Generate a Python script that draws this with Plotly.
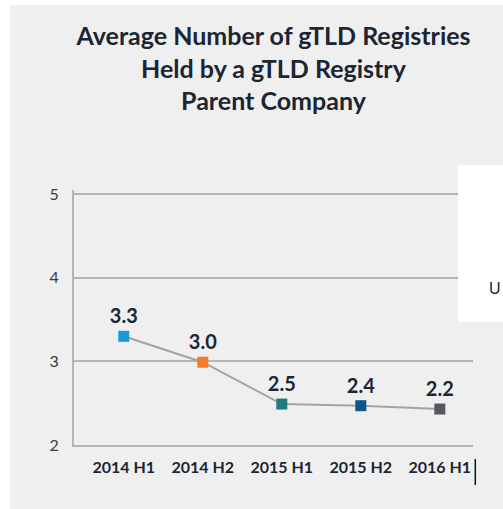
import plotly.graph_objects as go

periods = ["2014 H1", "2014 H2", "2015 H1", "2015 H2", "2016 H1"]
avg_values = [3.30, 2.99, 2.49, 2.47, 2.43]
value_labels = ["3.3", "3.0", "2.5", "2.4", "2.2"]
marker_colors = ["#1a9bd7", "#f07c2c", "#1f7c7c", "#0d5687", "#55595e"]
y_ticks = [2, 3, 4, 5]

W, H = 503, 509
Y_TOP = 5.05
L, R, B = 74, 472.7, 445
T = 194 - (Y_TOP - 5) * (445 - 194) / 3

def px(x):
    return (x - L) / (R - L)

def py(y):
    return (B - y) / (B - T)

fig = go.Figure()
fig.add_trace(go.Scatter(
    x=periods, y=avg_values, mode="lines+markers+text",
    line=dict(color="#a3a3a3", width=2),
    marker=dict(symbol="square", size=11, color=marker_colors, line=dict(width=0)),
    text=value_labels, textposition="top center",
    textfont=dict(family="Lato", size=20, color="#1c2533", weight="bold"),
    cliponaxis=False, hoverinfo="skip", showlegend=False,
))

shapes = [
    dict(type="rect", xref="paper", yref="paper", x0=px(-2), x1=px(10), y0=py(-2), y1=py(H + 2),
         fillcolor="white", line=dict(width=0), layer="above"),
    dict(type="rect", xref="paper", yref="paper", x0=px(-2), x1=px(W + 2), y0=py(-2), y1=py(5),
         fillcolor="white", line=dict(width=0), layer="above"),
    dict(type="rect", xref="paper", yref="paper", x0=px(457.7), x1=px(W + 2), y0=py(321.7), y1=py(165),
         fillcolor="white", line=dict(width=0), layer="above"),
    dict(type="line", xref="paper", yref="paper", x0=px(475), x1=px(475), y0=py(459), y1=py(485),
         line=dict(color="#111111", width=1.5), layer="above"),
]

fig.update_layout(
    width=W, height=H,
    margin=dict(l=L, r=W - R, t=T, b=H - B, pad=0),
    paper_bgcolor="#efefef", plot_bgcolor="#efefef",
    shapes=shapes,
    title=dict(
        text="Average Number of gTLD Registries<br>Held by a gTLD Registry<br>Parent Company",
        x=0.5, xref="paper", xanchor="center", y=1 - 45 / H, yanchor="top",
        font=dict(family="Lato", size=25, color="#1c2533", weight="bold"),
    ),
    xaxis=dict(
        type="category", range=[-0.63, 4.42], showgrid=False,
        showline=True, linecolor="#b5b5b5", linewidth=2,
        ticks="", ticklabelstandoff=7,
        tickfont=dict(family="Lato", size=16, color="#1c2533", weight="bold"),
        fixedrange=True, zeroline=False,
    ),
    yaxis=dict(
        range=[2, Y_TOP], tickvals=y_ticks, showgrid=True, gridcolor="#b5b5b5", gridwidth=2,
        showline=True, linecolor="#b5b5b5", linewidth=2,
        ticks="", ticklabelstandoff=10,
        tickfont=dict(family="Lato", size=16, color="#333a44"),
        zeroline=False, fixedrange=True,
    ),
    annotations=[dict(
        text="U", xref="paper", yref="paper", x=px(495), y=py(288),
        xanchor="center", yanchor="middle", showarrow=False,
        font=dict(family="Liberation Sans", size=16, color="#1a2238"),
    )],
)

fig.write_html("out.html", config={"displayModeBar": False},
               post_script="document.body.style.margin='0';document.body.style.overflow='hidden';")
